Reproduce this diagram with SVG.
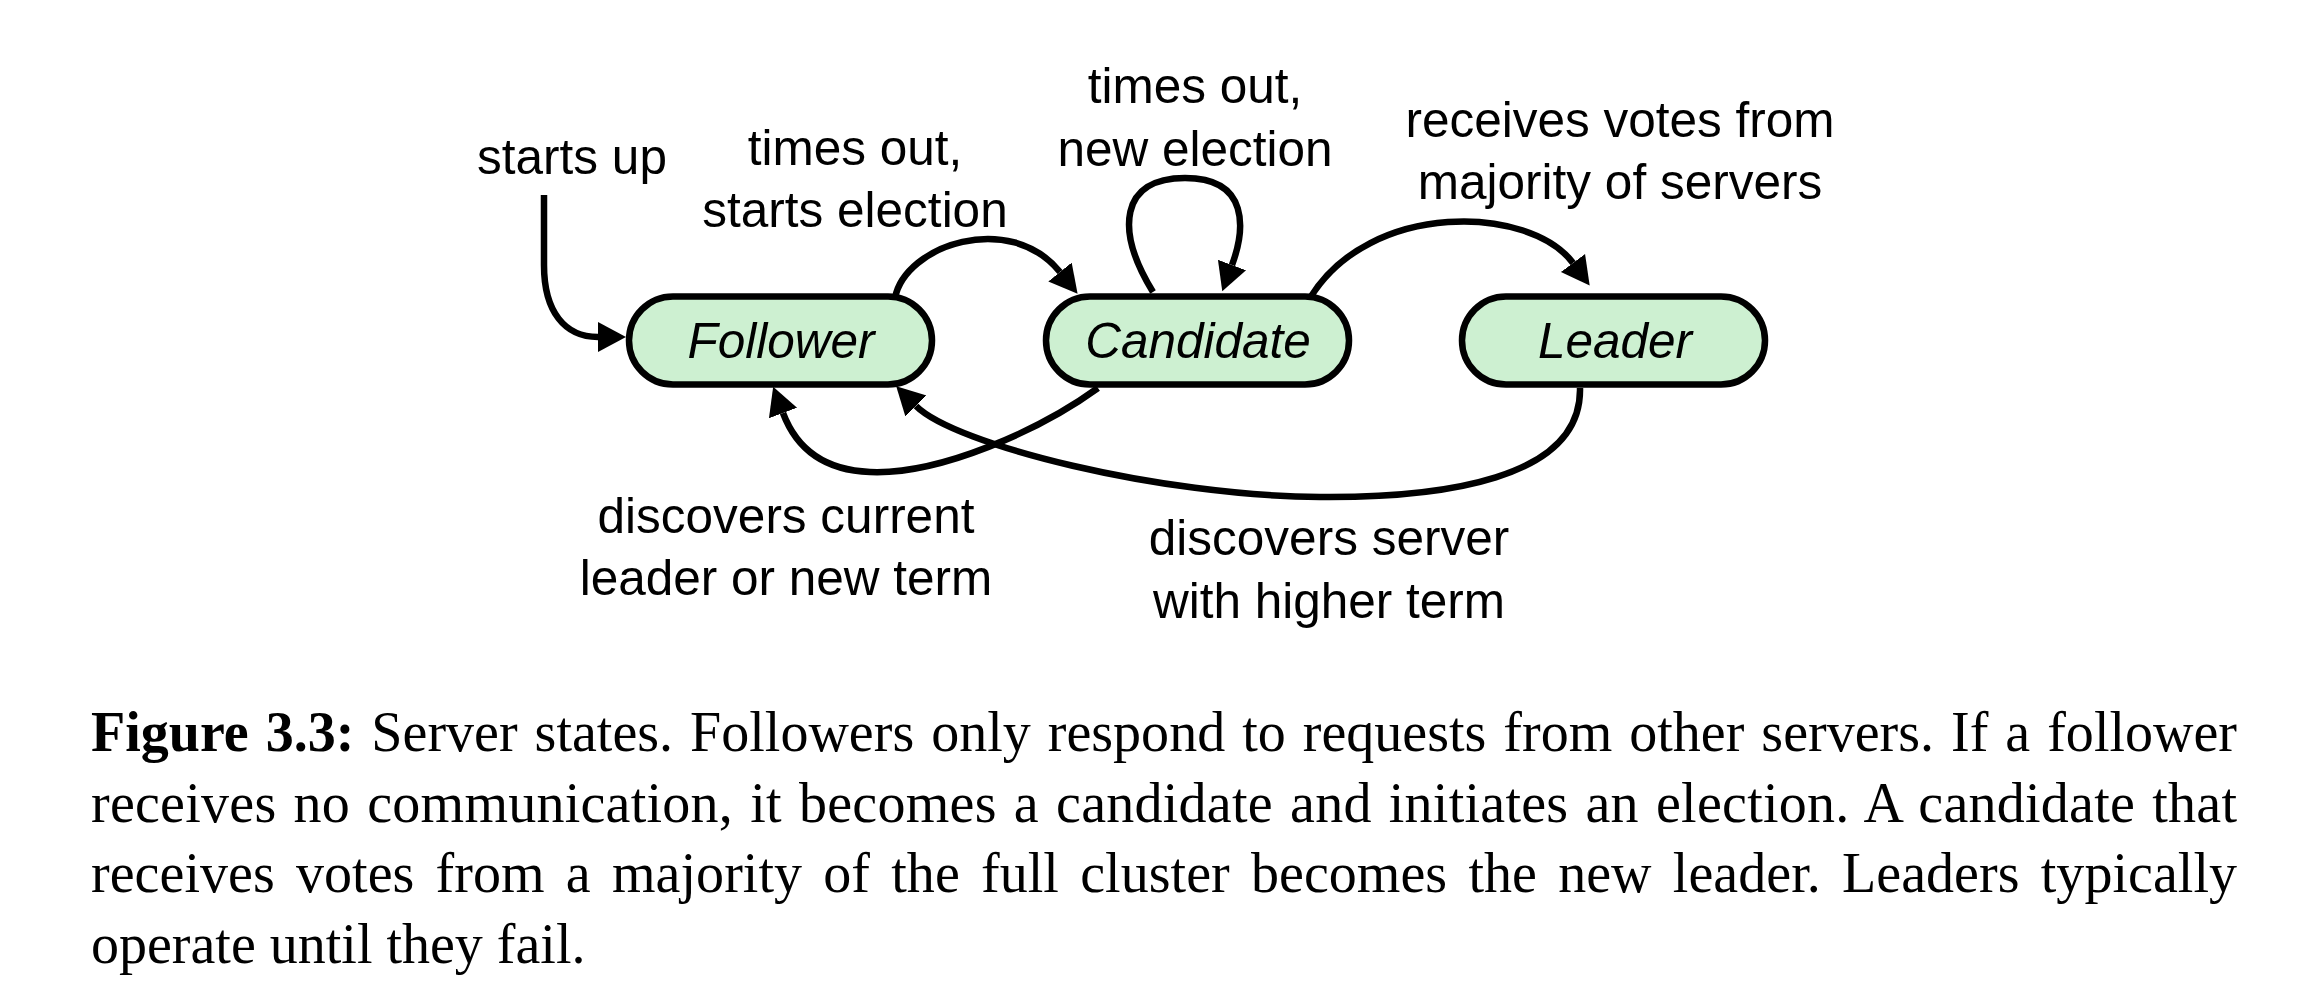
<svg xmlns="http://www.w3.org/2000/svg" width="2312" height="1008" viewBox="0 0 2312 1008">
<style>
.node rect{fill:#cdf0d1;stroke:#000;stroke-width:6.5}
.node text{font-family:"Liberation Sans",Arial,sans-serif;font-style:italic;font-size:49.5px;text-anchor:middle;fill:#000}
.lbl{font-family:"Liberation Sans",Arial,sans-serif;font-size:49.5px;text-anchor:middle;fill:#000}
.edge{fill:none;stroke:#000;stroke-width:6.5;marker-end:url(#ah)}
.cap{font-family:"Liberation Serif","Times New Roman",serif;font-size:56px;fill:#000}
</style>
<defs>
<marker id="ah" markerUnits="userSpaceOnUse" viewBox="0 -16 30 32" refX="0" refY="0" markerWidth="30" markerHeight="32" orient="auto">
<path d="M0,-15 L28,0 L0,15 Z" fill="#000"/>
</marker>
</defs>
<rect width="2312" height="1008" fill="#fff"/>
<g id="connectors">
<path class="edge" d="M544 195 L544 265 C544 312 565 337 598 337"/>
<path class="edge" d="M895 298 C905 245 1010 210 1060 272"/>
<path class="edge" d="M1153 292 C1115 230 1120 178 1185 178 C1250 178 1245 230 1232 265"/>
<path class="edge" d="M1310 298 C1370 200 1530 205 1573 263"/>
<path class="edge" d="M1580 388 C1582 480 1440 498 1320 497 C1160 496 955 445 916 406"/>
<path class="edge" d="M1098 388 C1040 430 940 475 870 472 C820 470 795 445 783 413"/>
</g>
<g id="follower" class="node">
<rect x="629" y="296.5" width="303" height="88" rx="44"/>
<text x="781" y="358">Follower</text>
</g>
<g id="candidate" class="node">
<rect x="1046" y="296.5" width="303" height="88" rx="44"/>
<text x="1198" y="358">Candidate</text>
</g>
<g id="leader" class="node">
<rect x="1462" y="296.5" width="303" height="88" rx="44"/>
<text x="1615" y="358">Leader</text>
</g>
<g id="labels">
<text class="lbl" x="572" y="174">starts up</text>
<text class="lbl" x="855" y="165">times out,</text>
<text class="lbl" x="855" y="227">starts election</text>
<text class="lbl" x="1195" y="103">times out,</text>
<text class="lbl" x="1195" y="166">new election</text>
<text class="lbl" x="1620" y="137">receives votes from</text>
<text class="lbl" x="1620" y="199">majority of servers</text>
<text class="lbl" x="786" y="533">discovers current</text>
<text class="lbl" x="786" y="595">leader or new term</text>
<text class="lbl" x="1329" y="555">discovers server</text>
<text class="lbl" x="1329" y="618">with higher term</text>
</g>
<g id="caption">
<text class="cap" x="91" y="751" word-spacing="3" textLength="2146" lengthAdjust="spacing"><tspan font-weight="bold">Figure 3.3:</tspan> Server states. Followers only respond to requests from other servers. If a follower</text>
<text class="cap" x="91" y="822" word-spacing="2.9" textLength="2146" lengthAdjust="spacing">receives no communication, it becomes a candidate and initiates an election. A candidate that</text>
<text class="cap" x="91" y="892" word-spacing="7.2" textLength="2146" lengthAdjust="spacing">receives votes from a majority of the full cluster becomes the new leader. Leaders typically</text>
<text class="cap" x="91" y="963">operate until they fail.</text>
</g>
</svg>
